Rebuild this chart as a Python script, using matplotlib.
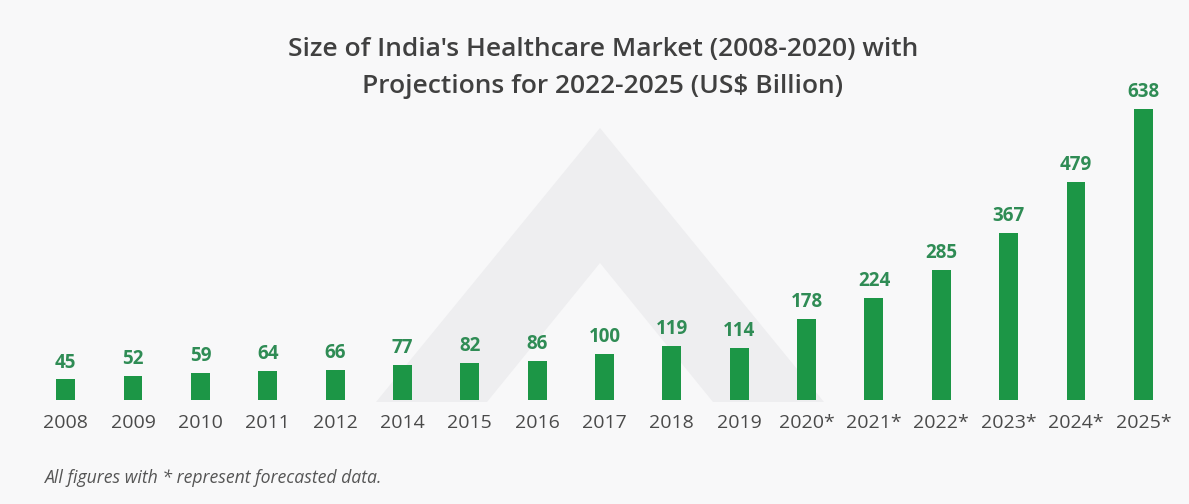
import matplotlib
matplotlib.use("Agg")
import matplotlib.pyplot as plt
from matplotlib.patches import Polygon

# Market size, US$ billion (* = forecast)
years = ["2008", "2009", "2010", "2011", "2012", "2014", "2015", "2016", "2017",
         "2018", "2019", "2020*", "2021*", "2022*", "2023*", "2024*", "2025*"]
values = [45, 52, 59, 64, 66, 77, 82, 86, 100, 119, 114, 178, 224, 285, 367, 479, 638]

title = "Size of India's Healthcare Market (2008-2020) with\nProjections for 2022-2025 (US$ Billion)"
footnote = "All figures with * represent forecasted data."

BG = "#f8f8f9"
BAR = "#1c9646"
LABEL = "#2f8c55"
TEXT = "#4a4a4a"

W, H = 1189, 504
fig = plt.figure(figsize=(W / 100, H / 100), dpi=100, facecolor=BG)

def fx(px):
    return px / W

def fy(py):
    return 1 - py / H

# faint chevron watermark behind the bars
outer = [(376, 402), (600, 128), (824, 402), (713, 402), (600, 263), (487, 402)]
wm = Polygon([(fx(x), fy(y)) for x, y in outer], closed=True,
             transform=fig.transFigure, facecolor="#eeeef0", edgecolor="none", zorder=-1)
fig.patches.append(wm)

# axes: baseline at y=400px, plot spans x 32..1177px
left, right = 32, 1177
bottom_px, top_px = 400, 81
ax = fig.add_axes([fx(left), fy(bottom_px), fx(right - left), (bottom_px - top_px) / H])
ax.set_zorder(1)
ax.patch.set_alpha(0)
x = range(len(years))
bars = ax.bar(x, values, width=0.28, color=BAR, zorder=2)
ax.set_xlim(-0.5, len(years) - 0.5)
ax.set_ylim(0, 700)
for s in ax.spines.values():
    s.set_visible(False)
ax.set_yticks([])
ax.set_xticks(list(x))
ax.set_xticklabels(years, fontsize=14, color=TEXT, family="Open Sans")
ax.tick_params(axis="x", length=0, pad=10)

for b, v in zip(bars, values):
    ax.annotate(str(v), (b.get_x() + b.get_width() / 2, v), xytext=(0, 5),
                textcoords="offset points", ha="center", va="bottom",
                fontsize=13.5, fontweight="bold", color=LABEL, family="Open Sans")

fig.text(fx(603), fy(68), title, ha="center", va="center", fontsize=19,
         fontweight="semibold", color="#404040", family="Open Sans", linespacing=1.6)
fig.text(fx(45), fy(478), footnote, ha="left", va="center", fontsize=12.7,
         style="italic", color="#555555", family="Open Sans")

fig.savefig("out.png", dpi=100, facecolor=BG)
